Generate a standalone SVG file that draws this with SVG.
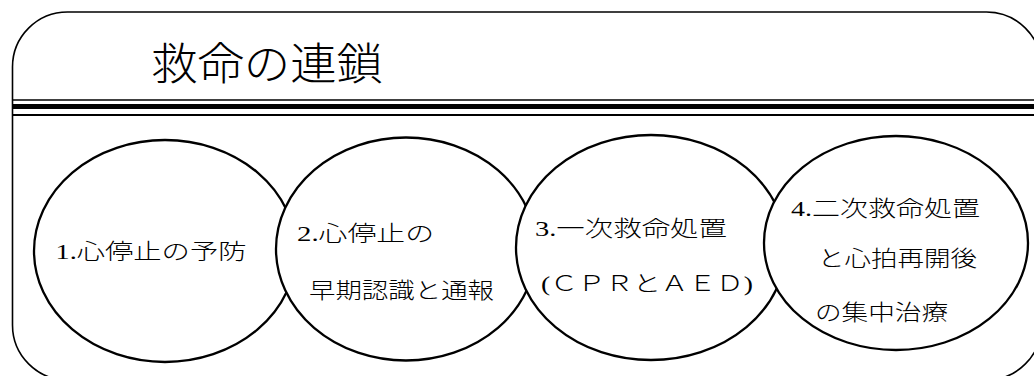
<svg xmlns="http://www.w3.org/2000/svg" width="1034" height="376" viewBox="0 0 1034 376">
<style>
.frame{fill:#fff;stroke:#000;stroke-width:1.6}
.rule{stroke:#000}
.node{fill:#fff;stroke:#000;stroke-width:2.3}
.t{font-family:"Liberation Serif","Noto Sans CJK JP",serif;font-size:22px;font-weight:300;fill:#000}
.n{font-weight:400}
.title{font-family:"Noto Sans CJK JP",sans-serif;font-size:44px;font-weight:200;fill:#000}
</style>
<rect width="1034" height="376" fill="#fff"/>
<g id="frame">
<rect class="frame" x="12.5" y="12" width="1029" height="368" rx="55" ry="55"/>
<line class="rule" x1="12" y1="100" x2="1034" y2="100" stroke-width="1.5"/>
<line class="rule" x1="12" y1="106.5" x2="1034" y2="106.5" stroke-width="5"/>
<line class="rule" x1="12" y1="115" x2="1034" y2="115" stroke-width="2"/>
<text class="title" x="151" y="80" textLength="232" lengthAdjust="spacingAndGlyphs">救命の連鎖</text>
</g>
<g id="connectors"/>
<g id="node1">
<ellipse class="node" cx="165" cy="251" rx="131" ry="111"/>
<text class="t" x="55.5" y="259" textLength="191" lengthAdjust="spacingAndGlyphs"><tspan class="n">1.</tspan>心停止の予防</text>
</g>
<g id="node2">
<ellipse class="node" cx="406" cy="249" rx="130" ry="111.5"/>
<text class="t" x="297" y="241" textLength="137" lengthAdjust="spacingAndGlyphs"><tspan class="n">2.</tspan>心停止の</text>
<text class="t" x="309" y="298" textLength="185" lengthAdjust="spacingAndGlyphs">早期認識と通報</text>
</g>
<g id="node3">
<ellipse class="node" cx="651" cy="247.5" rx="135" ry="112.5"/>
<text class="t" x="535" y="236" textLength="192" lengthAdjust="spacingAndGlyphs"><tspan class="n">3.</tspan>一次救命処置</text>
<text class="t" x="541" y="291" textLength="212" lengthAdjust="spacingAndGlyphs"><tspan class="n">(</tspan>ＣＰＲとＡＥＤ<tspan class="n">)</tspan></text>
</g>
<g id="node4">
<ellipse class="node" cx="896" cy="243" rx="132" ry="107"/>
<text class="t" x="791" y="216" textLength="189" lengthAdjust="spacingAndGlyphs"><tspan class="n">4.</tspan>二次救命処置</text>
<text class="t" x="818" y="266" textLength="159" lengthAdjust="spacingAndGlyphs">と心拍再開後</text>
<text class="t" x="815" y="320" textLength="133" lengthAdjust="spacingAndGlyphs">の集中治療</text>
</g>
</svg>
